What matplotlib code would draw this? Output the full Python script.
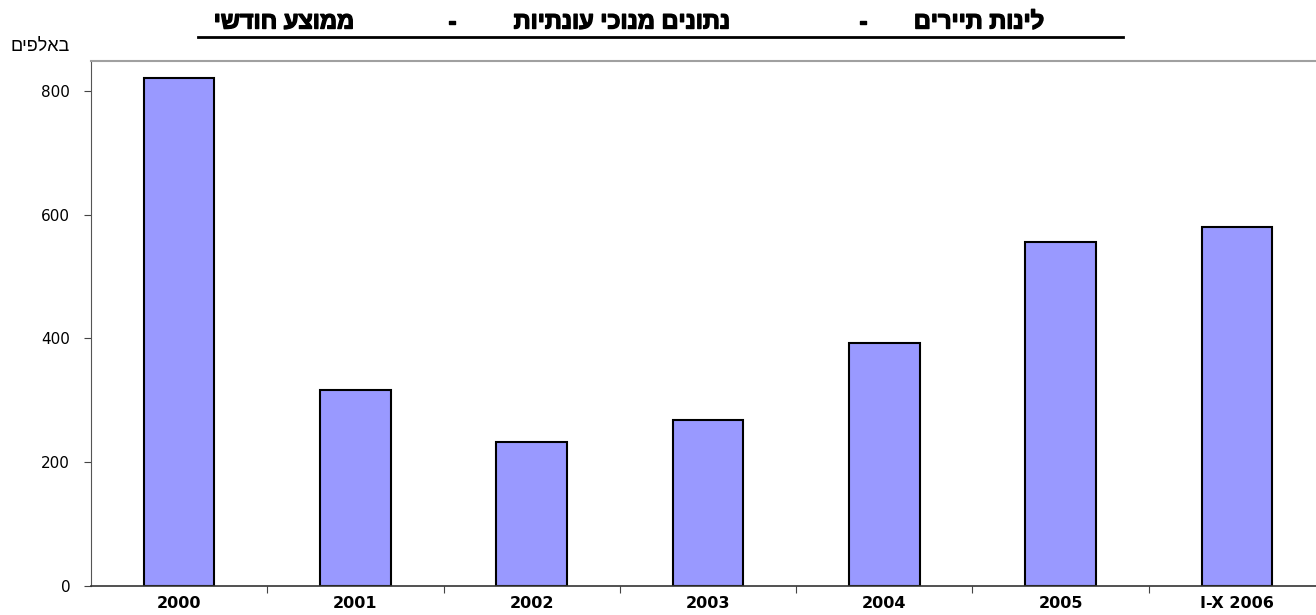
import matplotlib
matplotlib.use("Agg")
import matplotlib.pyplot as plt
from matplotlib.lines import Line2D
import matplotlib.patheffects as pe

plt.rcParams['font.family'] = ['DejaVu Sans']
HEB_FONT = ['Liberation Sans', 'DejaVu Sans']

# data
categories = ['2000', '2001', '2002', '2003', '2004', '2005', 'I-X 2006']
values = [821, 317, 233, 268, 393, 556, 580]
yticks = [0, 200, 400, 600, 800]

# title pieces, logical (right-to-left) order
title_parts = ["לינות תיירים", "-", "נתונים מנוכי עונתיות", "-", "ממוצע חודשי"]
title_x = [979, 863, 622, 452, 284]   # centre of each piece, pixels
unit_he = "באלפים"


def visual(s):
    # matplotlib has no bidi support, so reverse hebrew into display order
    return s[::-1]


W, H = 1316, 615
fig = plt.figure(figsize=(W / 100, H / 100), dpi=100)

# axes run slightly past the right edge, like the original
ax = fig.add_axes([91 / W, 1 - 586 / H, (1325 - 91) / W, (586 - 61) / H])

x = list(range(len(categories)))
ax.bar(x, values, width=0.4, color='#9999FF', edgecolor='black', linewidth=1.5, zorder=2)

ax.set_xlim(-0.5, len(categories) - 0.5)
ax.set_ylim(0, 848)

ax.set_yticks(yticks)
ax.set_yticklabels([str(v) for v in yticks], fontsize=11)
ax.set_xticks([i - 0.5 for i in range(1, len(categories))], minor=False)
ax.set_xticklabels([])
ax.set_xticks(x, minor=True)
ax.set_xticklabels(categories, minor=True, fontsize=11.5, fontweight='bold')
ax.tick_params(axis='x', which='minor', length=0, pad=7)
ax.tick_params(axis='x', which='major', length=5, direction='out', color='#444444')
ax.tick_params(axis='y', length=5, color='#444444', pad=10)

ax.spines['right'].set_visible(False)
ax.spines['top'].set_color('#a0a0a0')
ax.spines['top'].set_linewidth(1.5)
ax.spines['left'].set_color('#555555')
ax.spines['bottom'].set_color('#333333')
ax.spines['bottom'].set_linewidth(1.2)

# title with underline; a thin stroke thickens the hebrew glyphs
bold = [pe.withStroke(linewidth=1.0, foreground='black')]
for part, px in zip(title_parts, title_x):
    fig.text(px / W, 1 - 22 / H, visual(part), ha='center', va='center',
             fontsize=17, fontweight='bold', family=HEB_FONT, path_effects=bold)
fig.add_artist(Line2D([198 / W, 1123 / W], [1 - 37 / H, 1 - 37 / H],
                      color='black', linewidth=2, transform=fig.transFigure))

fig.text(10 / W, 1 - 46 / H, visual(unit_he), ha='left', va='center',
         fontsize=13, family=HEB_FONT)

fig.savefig('out.png', dpi=100)
